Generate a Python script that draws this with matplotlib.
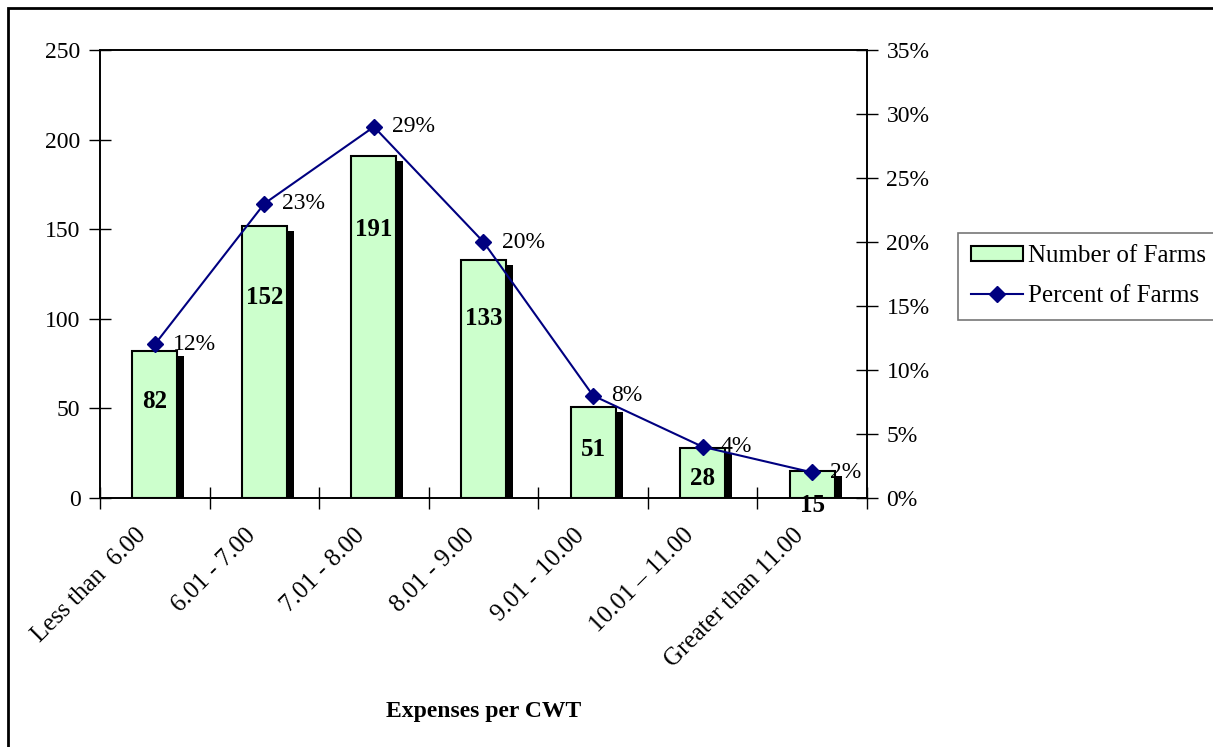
import matplotlib
matplotlib.use("Agg")
import matplotlib.pyplot as plt
import matplotlib.transforms as mtransforms
from matplotlib.patches import Rectangle
from matplotlib.ticker import FixedLocator, FuncFormatter

# chart data
categories = ["Less than  6.00", "6.01 - 7.00", "7.01 - 8.00", "8.01 - 9.00",
              "9.01 - 10.00", "10.01 \u2013 11.00", "Greater than 11.00"]
farms = [82, 152, 191, 133, 51, 28, 15]
percent = [12, 23, 29, 20, 8, 4, 2]

# where the count labels sit (data units, left axis)
label_y = [54, 112, 150, 100, 27, 11, -4]

plt.rcParams['font.family'] = ['Liberation Serif', 'DejaVu Serif']

fig = plt.figure(figsize=(12.13, 7.47), dpi=100)
ax = fig.add_axes([100 / 1213, 1 - 498 / 747, 767 / 1213, 448 / 747])
ax2 = ax.twinx()

x = list(range(len(categories)))

# shadow bars, shifted a little right and down
shadow = mtransforms.offset_copy(ax.transData, fig=fig, x=7, y=-5, units='dots')
ax.bar(x, farms, width=0.41, color='black', edgecolor='none',
       transform=shadow, zorder=1)
ax.bar(x, farms, width=0.41, color='#CCFFCC', edgecolor='black',
       linewidth=1.5, zorder=2, label='Number of Farms')

for i, v in enumerate(farms):
    ax.text(i, label_y[i], str(v), ha='center', va='center', fontsize=18,
            fontweight='bold', zorder=5)

ax.set_xlim(-0.5, len(categories) - 0.5)
ax.set_ylim(0, 250)
ax.set_yticks(range(0, 251, 50))

# percent line on the right axis
ax2.plot(x, percent, color='#000080', marker='D', markersize=8,
         linewidth=1.5, zorder=4, label='Percent of Farms')
for i, p in enumerate(percent):
    ax2.annotate(f"{p}%", (i, p), xytext=(13, 0), textcoords='offset points',
                 ha='left', va='center', fontsize=17)
ax2.set_ylim(0, 35)
ax2.set_yticks(range(0, 36, 5))
ax2.yaxis.set_major_formatter(FuncFormatter(lambda v, pos: f"{int(v)}%"))

# category ticks between bars, labels at the bar centers
ax.xaxis.set_major_locator(FixedLocator([i - 0.5 for i in range(len(categories) + 1)]))
ax.xaxis.set_major_formatter(FuncFormatter(lambda v, pos: ""))
ax.set_xticks(x, minor=True)
ax.set_xticklabels(categories, minor=True, rotation=45, ha='right',
                   rotation_mode='anchor', fontsize=18)
ax.tick_params(axis='x', which='minor', length=0, pad=19)
ax.tick_params(axis='x', which='major', direction='inout', length=16, width=1)
ax.tick_params(axis='y', direction='inout', length=16, width=1, labelsize=17, pad=6)
ax2.tick_params(axis='y', direction='inout', length=16, width=1, labelsize=17, pad=6)

# nudge the slanted labels to the left like the original
shift = mtransforms.ScaledTranslation(-20 / 100, 0, fig.dpi_scale_trans)
for lab in ax.get_xticklabels(minor=True):
    lab.set_transform(lab.get_transform() + shift)

for sp in list(ax.spines.values()) + list(ax2.spines.values()):
    sp.set_linewidth(1.2)
    sp.set_color('black')

ax.set_xlabel("Expenses per CWT", fontsize=17, fontweight='bold', labelpad=21)

# legend combining both series
h1, l1 = ax.get_legend_handles_labels()
h2, l2 = ax2.get_legend_handles_labels()
leg = ax2.legend(h1 + h2, l1 + l2, loc='upper left',
                 bbox_to_anchor=(958 / 1213, 1 - 233 / 747),
                 bbox_transform=fig.transFigure, borderaxespad=0,
                 fontsize=18, frameon=True, fancybox=False,
                 handlelength=2.1, handleheight=0.55, handletextpad=0.2,
                 labelspacing=0.7, borderpad=0.5)
leg.get_frame().set_edgecolor('#555555')
leg.get_frame().set_linewidth(1.2)

# outer chart border, running off the right and bottom edges
fig.patches.append(Rectangle((8 / 1213, -0.05), 1.1, 1 - 8 / 747 + 0.05,
                             transform=fig.transFigure, fill=False,
                             edgecolor='black', linewidth=2))

fig.savefig("out.png", dpi=100)
